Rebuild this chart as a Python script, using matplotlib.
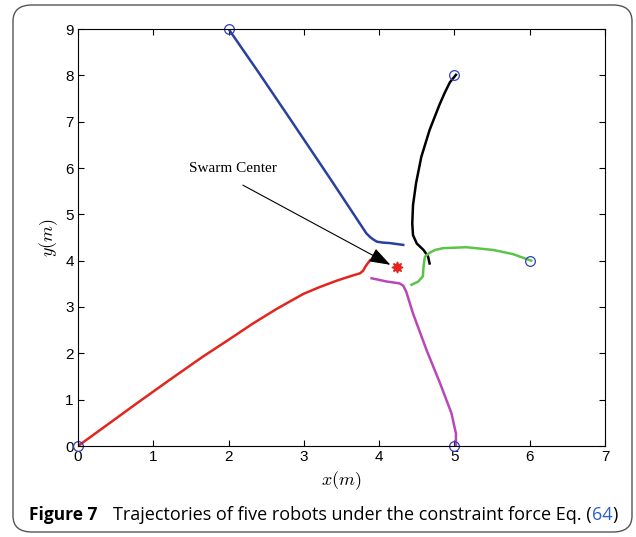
"""Trajectories of five robots under the constraint force (Figure 7)."""
import matplotlib
matplotlib.use("Agg")
import matplotlib.pyplot as plt
from matplotlib.patches import FancyBboxPatch

plt.rcParams["mathtext.fontset"] = "cm"
plt.rcParams["font.family"] = ["Liberation Sans", "DejaVu Sans"]

# robot start positions
start_x = [0, 2, 5, 5, 6]
start_y = [0, 9, 8, 0, 4]

# trajectories (m)
blue_x = [2.0, 2.4, 2.8, 3.35, 3.83, 3.88, 3.92, 3.97, 4.05, 4.14, 4.32]
blue_y = [9.0, 8.06, 7.10, 5.77, 4.59, 4.51, 4.46, 4.41, 4.39, 4.38, 4.34]

black_x = [5.02, 4.94, 4.87, 4.80, 4.67, 4.56, 4.49, 4.45, 4.44, 4.45, 4.50, 4.59, 4.65, 4.67]
black_y = [8.01, 7.85, 7.62, 7.36, 6.82, 6.24, 5.67, 5.20, 4.80, 4.55, 4.37, 4.23, 4.09, 3.94]

green_x = [6.02, 5.78, 5.52, 5.16, 4.85, 4.74, 4.67, 4.61, 4.60, 4.59, 4.58, 4.52, 4.43]
green_y = [4.0, 4.14, 4.23, 4.29, 4.27, 4.23, 4.17, 4.09, 4.00, 3.87, 3.66, 3.55, 3.48]

purple_x = [5.02, 5.02, 4.96, 4.81, 4.63, 4.45, 4.36, 4.32, 4.27, 4.10, 3.90]
purple_y = [0.0, 0.27, 0.71, 1.35, 2.07, 2.86, 3.33, 3.46, 3.51, 3.55, 3.62]

red_x = [0.0, 0.34, 0.78, 1.22, 1.66, 1.97, 2.33, 2.64, 2.99, 3.21, 3.44, 3.61, 3.75, 3.79, 3.82, 3.88]
red_y = [0.0, 0.40, 0.92, 1.43, 1.93, 2.26, 2.65, 2.96, 3.28, 3.43, 3.57, 3.66, 3.73, 3.79, 3.88, 4.01]

center = (4.24, 3.87)
label_pos = (2.06, 6.0)
arrow_tail = (2.19, 5.63)
arrow_tip = (4.15, 3.91)

fig = plt.figure(figsize=(6.36, 5.37), dpi=100)

# rounded frame around figure + caption
frame = FancyBboxPatch((13 / 636, 5 / 537), 619 / 636, 527 / 537,
                       boxstyle="round,pad=0,rounding_size=0.03",
                       transform=fig.transFigure, facecolor="none",
                       edgecolor="#555555", linewidth=1.0)
fig.patches.append(frame)

ax = fig.add_axes([78 / 636, 91 / 537, 527 / 636, 417 / 537])

ax.plot(blue_x, blue_y, color="#2b3f9e", lw=1.8)
ax.plot(black_x, black_y, color="black", lw=1.8)
ax.plot(green_x, green_y, color="#5cc449", lw=1.8)
ax.plot(purple_x, purple_y, color="#b847b8", lw=1.8)
ax.plot(red_x, red_y, color="#e2261f", lw=1.8)
ax.plot(start_x, start_y, "o", ms=7, mfc="none", mec="#3040c0", mew=0.9,
        clip_on=False)
ax.plot(*center, marker=(8, 1, 0), ms=8, color="#e2261f", ls="none")

ax.annotate("", xy=arrow_tip, xytext=arrow_tail,
            arrowprops=dict(arrowstyle="-|>,head_length=1.3,head_width=0.45",
                            color="black", lw=0.8, shrinkA=0, shrinkB=0))
ax.text(*label_pos, "Swarm Center", family="Liberation Serif", fontsize=11,
        ha="center", va="center")

ax.set_xlim(0, 7)
ax.set_ylim(0, 9)
ax.set_xticks(range(8))
ax.set_yticks(range(10))
ax.tick_params(direction="in", top=True, right=True, labelsize=11, length=4,
               pad=3)
ax.set_xlabel("$x(m)$", fontsize=13, labelpad=4)
ax.set_ylabel("$y(m)$", fontsize=13, labelpad=4)

# caption, pieces laid out left to right on one baseline
base_y = 1 - 520 / 537
pieces = [("Figure 7", "bold", "black", 12.5, 0),
          ("Trajectories of five robots under the constraint force Eq. (", "normal", "black", 13, 16),
          ("64", "normal", "#2a5fd0", 13, 0),
          (")", "normal", "black", 13, 0)]
x_px = 29
renderer = fig.canvas.get_renderer()
for txt, weight, col, size, gap in pieces:
    x_px += gap
    t = fig.text(x_px / 636, base_y, txt, fontsize=size, weight=weight,
                 color=col, family="Open Sans", va="baseline")
    x_px = t.get_window_extent(renderer).x1

fig.savefig("out.png", dpi=100)
